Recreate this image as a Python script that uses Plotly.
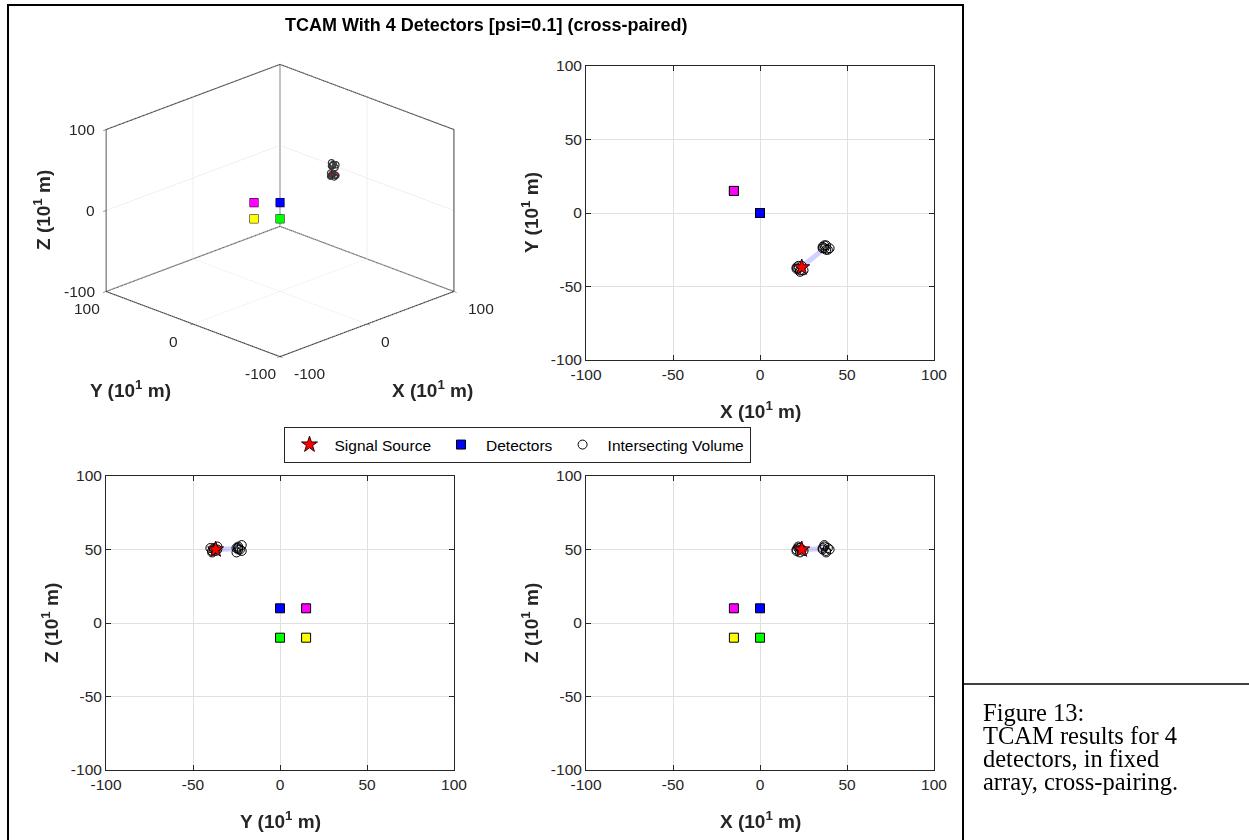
import numpy as np
import plotly.graph_objects as go

W, H = 1249, 840

# ---------------- data ----------------
TITLE = "TCAM With 4 Detectors [psi=0.1] (cross-paired)"
AX_RANGE = [-100, 100]
TICKS_2D = [-100, -50, 0, 50, 100]
TICKS_3D = [-100, 0, 100]

# detectors: blue, green, magenta, yellow
DET_X = [0, 0, -15, -15]
DET_Y = [0, 0, 15, 15]
DET_Z = [10, -10, 10, -10]
DET_COLOR = ["#0000ff", "#00ff00", "#ff00ff", "#ffff00"]

# signal source
SRC_X = [24]
SRC_Y = [-37]
SRC_Z = [50]

# intersecting volume, two clusters
VOL1_X = [21, 22, 23, 24, 22, 25, 21, 23]
VOL1_Y = [-37, -38, -39, -36, -36, -39, -38, -40]
VOL1_Z = [49, 51, 48, 50, 52, 49, 50, 51]
VOL2_X = [36, 37, 38, 39, 40, 37, 38, 36]
VOL2_Y = [-23, -24, -22, -25, -24, -22, -25, -24]
VOL2_Z = [50, 52, 49, 51, 50, 53, 48, 51]

CAPTION = ["Figure 13:", "TCAM results for 4", "detectors, in fixed", "array, cross-pairing."]

# ---------------- styles ----------------
FONT = "Liberation Sans, Arial, Helvetica, sans-serif"
SERIF = "Liberation Serif, Times New Roman, serif"
AXC = "#262626"
GRIDC = "#e0e0e0"
LINK_COLOR = "rgba(140,140,255,0.4)"
TICK_FS = 15.5
LAB_FS = 19
TITLE_FS = 18
LEG_FS = 15.5
CAP_FS = 24.5

VOL_X = VOL1_X + VOL2_X
VOL_Y = VOL1_Y + VOL2_Y
VOL_Z = VOL1_Z + VOL2_Z
LINK_X = [float(np.mean(VOL1_X)), float(np.mean(VOL2_X))]
LINK_Y = [float(np.mean(VOL1_Y)), float(np.mean(VOL2_Y))]
LINK_Z = [float(np.mean(VOL1_Z)), float(np.mean(VOL2_Z))]

low = [i for i in range(4) if DET_Z[i] < 0]
up = [i for i in range(4) if DET_Z[i] >= 0]

fig = go.Figure()

views = [
    ("x", "y", "x", "y"),     # top-right XY
    ("y", "z", "x2", "y2"),   # bottom-left YZ
    ("x", "z", "x3", "y3"),   # bottom-right XZ
]
D = {"x": (DET_X, SRC_X, VOL_X, LINK_X),
     "y": (DET_Y, SRC_Y, VOL_Y, LINK_Y),
     "z": (DET_Z, SRC_Z, VOL_Z, LINK_Z)}

for k, (h, v, xa, ya) in enumerate(views):
    leg = (k == 0)
    dh, sh, vh, lh = D[h]
    dv, sv, vv, lv = D[v]
    fig.add_trace(go.Scatter(
        x=[dh[i] for i in low], y=[dv[i] for i in low], mode="markers",
        marker=dict(symbol="square", size=9, color=[DET_COLOR[i] for i in low],
                    line=dict(color="black", width=1)),
        showlegend=False, xaxis=xa, yaxis=ya, hoverinfo="skip"))
    fig.add_trace(go.Scatter(
        x=[dh[i] for i in up], y=[dv[i] for i in up], mode="markers", name="Detectors",
        marker=dict(symbol="square", size=9, color=[DET_COLOR[i] for i in up],
                    line=dict(color="black", width=1)),
        showlegend=leg, legendrank=2, xaxis=xa, yaxis=ya))
    fig.add_trace(go.Scatter(
        x=lh, y=lv, mode="lines", line=dict(color=LINK_COLOR, width=5),
        showlegend=False, xaxis=xa, yaxis=ya, hoverinfo="skip"))
    fig.add_trace(go.Scatter(
        x=vh, y=vv, mode="markers", name="Intersecting Volume",
        marker=dict(symbol="circle-open", size=9, color="black", line=dict(width=1)),
        showlegend=leg, legendrank=3, xaxis=xa, yaxis=ya))
    fig.add_trace(go.Scatter(
        x=sh, y=sv, mode="markers", name="Signal Source",
        marker=dict(symbol="star", size=12, color="red", line=dict(color="#300000", width=1)),
        showlegend=leg, legendrank=1, xaxis=xa, yaxis=ya))

# 3D view
fig.add_trace(go.Scatter3d(
    x=DET_X, y=DET_Y, z=DET_Z, mode="markers",
    marker=dict(symbol="square", size=4.5, color=DET_COLOR, line=dict(color="black", width=1)),
    showlegend=False, scene="scene"))
fig.add_trace(go.Scatter3d(
    x=VOL_X, y=VOL_Y, z=VOL_Z, mode="markers",
    marker=dict(symbol="circle-open", size=4, color="black", line=dict(width=1.5)),
    showlegend=False, scene="scene"))
fig.add_trace(go.Scatter3d(
    x=SRC_X, y=SRC_Y, z=SRC_Z, mode="markers",
    marker=dict(symbol="diamond", size=3, color="red"),
    showlegend=False, scene="scene"))

# 3D frame: outlines of the three back planes (x=max, y=max, z=min)
lo, hi = AX_RANGE
ex, ey, ez = [], [], []
def seg(a, b):
    ex.extend([a[0], b[0], None]); ey.extend([a[1], b[1], None]); ez.extend([a[2], b[2], None])
for yv in (lo, hi):
    seg((lo, yv, lo), (hi, yv, lo))
for xv in (lo, hi):
    seg((xv, lo, lo), (xv, hi, lo))
seg((hi, lo, lo), (hi, lo, hi))
seg((hi, hi, lo), (hi, hi, hi))
seg((lo, hi, lo), (lo, hi, hi))
seg((hi, lo, hi), (hi, hi, hi))
seg((lo, hi, hi), (hi, hi, hi))
fig.add_trace(go.Scatter3d(x=ex, y=ey, z=ez, mode="lines",
                           line=dict(color=AXC, width=2), showlegend=False,
                           hoverinfo="skip", scene="scene"))

def px2fx(p):
    return p / W

def py2fy(p):
    return 1 - p / H

ax2d = dict(range=AX_RANGE, tickvals=TICKS_2D, ticktext=[str(t) for t in TICKS_2D],
            showgrid=True, gridcolor=GRIDC, automargin=False,
            zeroline=False, showline=True, linecolor=AXC, linewidth=1, mirror="ticks",
            ticks="inside", ticklen=5, tickcolor=AXC,
            tickfont=dict(family=FONT, size=TICK_FS, color=AXC))

L, R = 106, 454
L2, R2 = 586, 934
T1, B1 = 66, 360
T2, B2 = 476, 770

layout = dict(
    template="none",
    width=W, height=H, margin=dict(l=0, r=0, t=0, b=0, pad=0, autoexpand=False),
    paper_bgcolor="white", plot_bgcolor="white",
    font=dict(family=FONT, color=AXC),
    xaxis=dict(ax2d, domain=[px2fx(L2), px2fx(R2)], anchor="y"),
    yaxis=dict(ax2d, domain=[py2fy(B1), py2fy(T1)], anchor="x"),
    xaxis2=dict(ax2d, domain=[px2fx(L), px2fx(R)], anchor="y2"),
    yaxis2=dict(ax2d, domain=[py2fy(B2), py2fy(T2)], anchor="x2"),
    xaxis3=dict(ax2d, domain=[px2fx(L2), px2fx(R2)], anchor="y3"),
    yaxis3=dict(ax2d, domain=[py2fy(B2), py2fy(T2)], anchor="x3"),
    legend=dict(orientation="h", x=px2fx(517), xanchor="center", y=py2fy(445), yanchor="middle",
                bordercolor=AXC, borderwidth=1, bgcolor="white",
                font=dict(family=FONT, size=LEG_FS, color="black"), itemwidth=40,
                traceorder="normal"),
    showlegend=True,
)

ax3d = dict(range=AX_RANGE, tickvals=TICKS_3D, showticklabels=False,
            showgrid=True, gridcolor=GRIDC, gridwidth=1,
            zeroline=False, showline=False, showbackground=False, showspikes=False,
            ticks="outside", ticklen=4, tickcolor=AXC, title=dict(text=""))
el = np.deg2rad(22.0)
r = 1.56
k3 = 1.278
s_ann = []
tf = dict(family=FONT, size=TICK_FS, color=AXC)
for t in TICKS_3D:
    s_ann.append(dict(x=lo, y=hi, z=t, text=str(t), showarrow=False, xanchor="right",
                      yanchor="middle", xshift=-9, font=tf))
    s_ann.append(dict(x=lo, y=t, z=lo, text=str(t), showarrow=False, xanchor="center",
                      yanchor="middle", xshift=-19, yshift=-17, font=tf))
    s_ann.append(dict(x=t, y=lo, z=lo, text=str(t), showarrow=False, xanchor="left",
                      yanchor="middle", xshift=12, yshift=-17, font=tf))
layout["scene"] = dict(
    domain=dict(x=[0.0, 0.448], y=[0.52, 0.978]),
    xaxis=ax3d, yaxis=ax3d, zaxis=ax3d,
    aspectmode="manual", aspectratio=dict(x=k3, y=k3, z=0.71 * k3),
    camera=dict(projection=dict(type="orthographic"),
                eye=dict(x=-r*np.cos(el)/np.sqrt(2), y=-r*np.cos(el)/np.sqrt(2), z=r*np.sin(el)),
                up=dict(x=0, y=0, z=1), center=dict(x=0, y=0, z=0)),
    bgcolor="rgba(0,0,0,0)",
    annotations=s_ann,
)
fig.update_layout(**layout)

ann = []
ann.append(dict(text="<b>" + TITLE + "</b>", x=px2fx(486), y=py2fy(25), xref="paper", yref="paper",
                xanchor="center", yanchor="middle",
                showarrow=False, font=dict(family=FONT, size=TITLE_FS, color="black")))
def lab(t, x, y, ang=0):
    ann.append(dict(text="<b>" + t + " (10<sup>1</sup> m)</b>", x=px2fx(x), y=py2fy(y),
                    xref="paper", yref="paper", showarrow=False, textangle=ang,
                    xanchor="center", yanchor="middle",
                    font=dict(family=FONT, size=LAB_FS, color=AXC)))
lab("X", 760, 410)
lab("Y", 530, 213, -90)
lab("Y", 280, 820)
lab("Z", 50, 623, -90)
lab("X", 760, 820)
lab("Z", 530, 623, -90)
lab("Y", 130, 389)
lab("X", 432, 389)
lab("Z", 42, 210, -90)
for i, t in enumerate(CAPTION):
    ann.append(dict(text=t, x=px2fx(981), y=py2fy(712 + 23.2 * i), xref="paper", yref="paper",
                    xanchor="left", yanchor="middle", showarrow=False,
                    font=dict(family=SERIF, size=CAP_FS, color="black")))
fig.update_layout(annotations=ann)

fig.update_layout(shapes=[
    dict(type="rect", xref="paper", yref="paper", x0=px2fx(8), x1=px2fx(963), y0=-0.05, y1=py2fy(5),
         line=dict(color="black", width=2)),
    dict(type="line", xref="paper", yref="paper", x0=px2fx(963), x1=1.01, y0=py2fy(684), y1=py2fy(684),
         line=dict(color="black", width=1.5)),
])

post = "document.body.style.margin='0';document.body.style.overflow='hidden';"
fig.write_html("out.html", post_script=post)
